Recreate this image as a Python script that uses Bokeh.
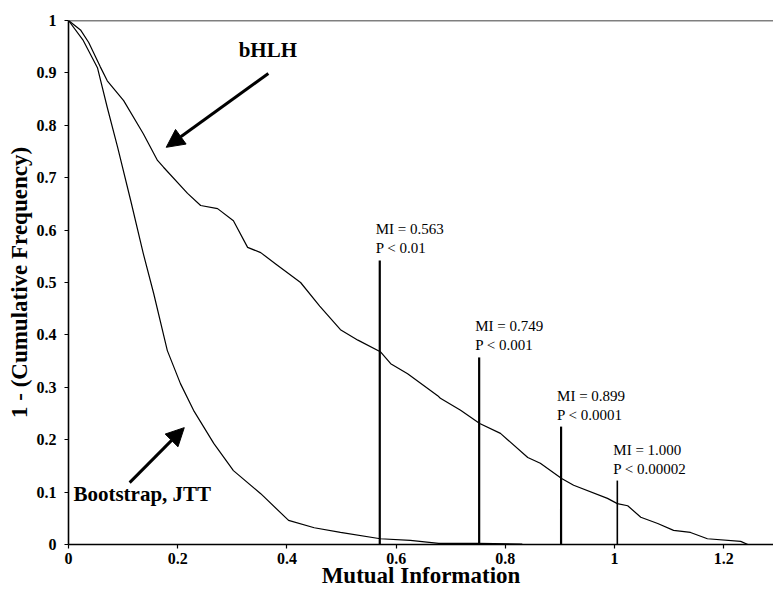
from bokeh.plotting import figure
from bokeh.models import Range1d, FixedTicker, Span, Arrow, NormalHead, Label, ColumnDataSource
from bokeh.core.properties import value
from bokeh.embed import file_html
from bokeh.resources import INLINE

# ---- data ----
bhlh_x = [0.0, 0.022, 0.037, 0.058, 0.071, 0.101, 0.137, 0.163, 0.174, 0.218, 0.242, 0.273,
          0.302, 0.328, 0.352, 0.38, 0.425, 0.46, 0.498, 0.53, 0.571, 0.59, 0.621, 0.676,
          0.681, 0.718, 0.753, 0.791, 0.841, 0.864, 0.903, 0.925, 0.987, 1.005, 1.024,
          1.048, 1.079, 1.108, 1.139, 1.17, 1.231, 1.244]
bhlh_y = [1.0, 0.982, 0.958, 0.912, 0.885, 0.847, 0.784, 0.733, 0.72, 0.67, 0.647, 0.641,
          0.618, 0.567, 0.557, 0.535, 0.5, 0.455, 0.41, 0.39, 0.368, 0.345, 0.326, 0.284,
          0.279, 0.256, 0.231, 0.212, 0.166, 0.155, 0.126, 0.113, 0.088, 0.078, 0.074,
          0.052, 0.04, 0.027, 0.023, 0.011, 0.006, 0.0]

boot_x = [0.0, 0.027, 0.053, 0.071, 0.09, 0.114, 0.137, 0.156, 0.181, 0.205, 0.229, 0.266,
          0.302, 0.352, 0.403, 0.45, 0.498, 0.571, 0.626, 0.678, 0.75, 0.831]
boot_y = [1.0, 0.962, 0.91, 0.834, 0.758, 0.656, 0.555, 0.479, 0.37, 0.307, 0.256, 0.193,
          0.141, 0.097, 0.046, 0.032, 0.023, 0.011, 0.008, 0.002, 0.002, 0.001]

mi_values = [0.563, 0.749, 0.899, 1.000]
p_values = ["0.01", "0.001", "0.0001", "0.00002"]
mi_line_x = [0.570, 0.752, 0.902, 1.005]
mi_line_top = [0.542, 0.357, 0.225, 0.122]
mi_line_w = [2.2, 2.2, 2.2, 1.6]

x_ticks = [0, 0.2, 0.4, 0.6, 0.8, 1.0, 1.2]
x_tick_labels = ["0", "0.2", "0.4", "0.6", "0.8", "1", "1.2"]
y_ticks = [0, 0.1, 0.2, 0.3, 0.4, 0.5, 0.6, 0.7, 0.8, 0.9, 1.0]
y_tick_labels = ["0", "0.1", "0.2", "0.3", "0.4", "0.5", "0.6", "0.7", "0.8", "0.9", "1"]

FONT = "Liberation Serif"

p = figure(width=773, height=591, output_backend="svg", toolbar_location=None,
           x_range=Range1d(0, 1.291), y_range=Range1d(0, 1.0),
           min_border_left=68, min_border_top=20, min_border_right=0, min_border_bottom=47)
p.outline_line_color = None
p.grid.visible = False
p.background_fill_color = "white"
p.border_fill_color = "white"

for ax, ticks, labels in ((p.xaxis[0], x_ticks, x_tick_labels), (p.yaxis[0], y_ticks, y_tick_labels)):
    ax.ticker = FixedTicker(ticks=ticks, minor_ticks=[])
    ax.major_label_overrides = {t: l for t, l in zip(ticks, labels)}
    ax.axis_line_width = 1.6
    ax.axis_line_color = "black"
    ax.major_tick_line_color = "black"
    ax.major_tick_line_width = 1.2
    ax.major_tick_in = 0
    ax.major_tick_out = 4
    ax.minor_tick_line_color = None
    ax.major_label_text_font = FONT
    ax.major_label_text_font_style = "bold"
    ax.major_label_text_font_size = "16px"
    ax.major_label_text_color = "black"
    ax.axis_label_text_font = FONT
    ax.axis_label_text_font_style = "bold"
    ax.axis_label_text_font_size = "23px"
    ax.axis_label_text_color = "black"

p.xaxis.axis_label = "Mutual Information"
p.yaxis.axis_label = "1 - (Cumulative Frequency)"
p.xaxis.major_label_standoff = 4
p.xaxis.axis_label_standoff = -4
p.yaxis.major_label_standoff = 8
p.yaxis.axis_label_standoff = 2

p.add_layout(Span(location=1.0, dimension="width", line_color="black", line_width=1.6))

p.line(bhlh_x, bhlh_y, line_color="black", line_width=1.2)
p.line(boot_x, boot_y, line_color="black", line_width=1.2)

src = ColumnDataSource(dict(
    x=mi_line_x, top=mi_line_top, w=mi_line_w, zero=[0] * len(mi_line_x),
    mi=[f"MI = {v:.3f}" for v in mi_values],
    pv=[f"P < {v}" for v in p_values],
))
p.segment(x0="x", y0="zero", x1="x", y1="top", line_width="w", line_color="black", source=src)
p.text(x="x", y="top", text="mi", source=src, x_offset=-4, y_offset=-31,
       text_font=value(FONT), text_font_size="15px", text_baseline="middle", text_color="black")
p.text(x="x", y="top", text="pv", source=src, x_offset=-4, y_offset=-12,
       text_font=value(FONT), text_font_size="15px", text_baseline="middle", text_color="black")

p.add_layout(Label(x=0.365, y=0.92, text="bHLH", text_align="center", text_font=FONT,
                   text_font_style="bold", text_font_size="21px", text_color="black"))
p.add_layout(Label(x=0.009, y=0.074, text="Bootstrap, JTT", text_align="left", text_font=FONT,
                   text_font_style="bold", text_font_size="21px", text_color="black"))

p.add_layout(Arrow(end=NormalHead(size=18, fill_color="black", line_color="black"),
                   x_start=0.366, y_start=0.899, x_end=0.179, y_end=0.758,
                   line_width=3, line_color="black"))
p.add_layout(Arrow(end=NormalHead(size=18, fill_color="black", line_color="black"),
                   x_start=0.112, y_start=0.118, x_end=0.212, y_end=0.223,
                   line_width=3, line_color="black"))

open("out.html", "w").write(file_html(p, INLINE))
